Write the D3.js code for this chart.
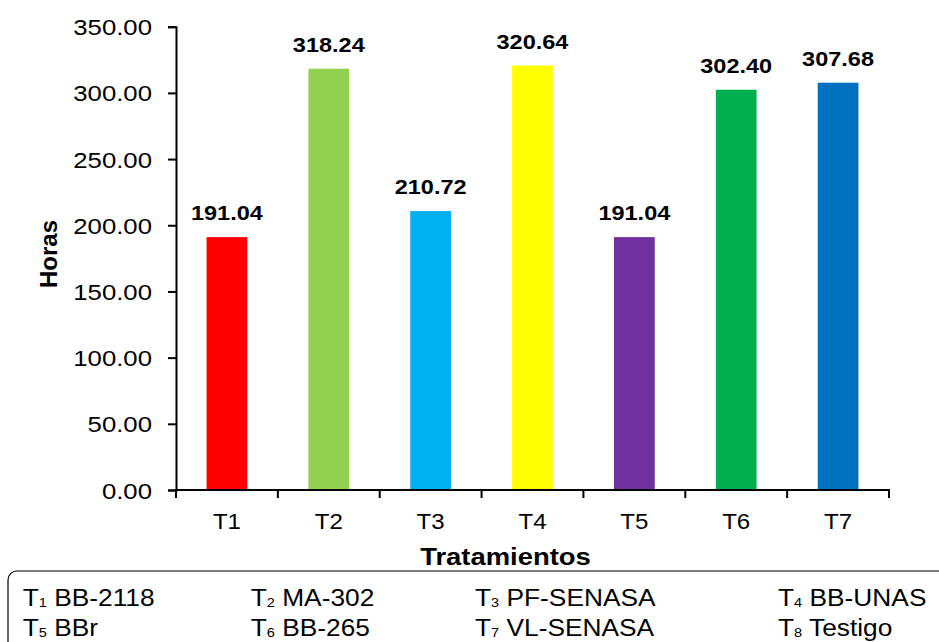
<!DOCTYPE html>
<html>
<head>
<meta charset="utf-8">
<script src="https://cdn.jsdelivr.net/npm/d3@7/dist/d3.min.js"></script>
<style>
  html, body { margin: 0; padding: 0; background: #fff; }
  svg { display: block; font-family: Arial, "Liberation Sans", sans-serif; }
</style>
</head>
<body>
<svg id="chart" width="939" height="642"></svg>
<script>
// Treatments and their mean duration (hours)
const categories = ["T1", "T2", "T3", "T4", "T5", "T6", "T7"];
const values = [191.04, 318.24, 210.72, 320.64, 191.04, 302.40, 307.68];
const barColors = ["#FF0000", "#92D050", "#00B0F0", "#FFFF00", "#7030A0", "#00B050", "#0070C0"];
const yTicks = [0, 50, 100, 150, 200, 250, 300, 350];

// Key of treatment codes
const legendCodes = ["1", "2", "3", "4", "5", "6", "7", "8"];
const legendNames = ["BB-2118", "MA-302", "PF-SENASA", "BB-UNAS", "BBr", "BB-265", "VL-SENASA", "Testigo"];

const SX = 1.12; // horizontal stretch applied to text glyphs

const svg = d3.select("#chart");

const x = d3.scaleBand()
  .domain(categories)
  .range([176, 889])
  .paddingInner(0.6)
  .paddingOuter(0.3);

const y = d3.scaleLinear()
  .domain([0, 350])
  .range([490, 26.7]);

// Bars
svg.append("g")
  .selectAll("rect")
  .data(values)
  .join("rect")
  .attr("x", (d, i) => x(categories[i]))
  .attr("y", d => y(d))
  .attr("width", x.bandwidth())
  .attr("height", d => y(0) - y(d))
  .attr("fill", (d, i) => barColors[i]);

// Value labels
svg.append("g")
  .selectAll("text")
  .data(values)
  .join("text")
  .attr("transform", (d, i) =>
    `translate(${x(categories[i]) + x.bandwidth() / 2},${y(d) - 17}) scale(${SX},1)`)
  .attr("text-anchor", "middle")
  .attr("font-weight", "bold")
  .attr("font-size", 21)
  .attr("fill", "#000")
  .text(d => d.toFixed(2));

// Y axis
const yAxis = svg.append("g")
  .attr("transform", "translate(176,0)")
  .call(d3.axisLeft(y).tickValues(yTicks).tickFormat(d3.format(".2f")).tickSize(8).tickPadding(16));
yAxis.select(".domain").attr("stroke", "#000").attr("stroke-width", 2);
yAxis.selectAll(".tick line").attr("stroke", "#000").attr("stroke-width", 2);
yAxis.selectAll(".tick text")
  .attr("x", null)
  .attr("dy", null)
  .attr("transform", `translate(-24,8) scale(${SX},1)`)
  .attr("font-size", 23)
  .attr("font-family", "Arial, 'Liberation Sans', sans-serif")
  .attr("fill", "#000");

// X axis: labels at band centres, tick marks at band boundaries
const xAxis = svg.append("g")
  .attr("transform", `translate(0,${y(0)})`)
  .call(d3.axisBottom(x).tickSize(0).tickPadding(0));
xAxis.select(".domain").remove();
xAxis.selectAll(".tick text")
  .attr("y", null)
  .attr("dy", null)
  .attr("transform", `translate(0,39) scale(${SX},1)`)
  .attr("font-size", 21.5)
  .attr("font-family", "Arial, 'Liberation Sans', sans-serif")
  .attr("fill", "#000");

const [x0, x1] = x.range();
xAxis.append("line")
  .attr("x1", x0 - 1).attr("x2", x1 + 1)
  .attr("y1", 0).attr("y2", 0)
  .attr("stroke", "#000").attr("stroke-width", 2);
xAxis.selectAll(".bound")
  .data(d3.range(categories.length + 1))
  .join("line")
  .attr("class", "bound")
  .attr("x1", i => x0 + i * x.step())
  .attr("x2", i => x0 + i * x.step())
  .attr("y1", 0).attr("y2", 8)
  .attr("stroke", "#000").attr("stroke-width", 2);

// Axis titles
svg.append("text")
  .attr("transform", "translate(56.5,254) rotate(-90)")
  .attr("text-anchor", "middle")
  .attr("font-weight", "bold")
  .attr("font-size", 24)
  .text("Horas");

svg.append("text")
  .attr("transform", `translate(505.5,565) scale(${SX},1)`)
  .attr("text-anchor", "middle")
  .attr("font-weight", "bold")
  .attr("font-size", 24.5)
  .text("Tratamientos");

// Key box
svg.append("rect")
  .attr("x", 8).attr("y", 571)
  .attr("width", 960).attr("height", 120)
  .attr("rx", 9).attr("ry", 9)
  .attr("fill", "none")
  .attr("stroke", "#000")
  .attr("stroke-width", 1.2);

const colX = [22.7, 250.7, 475, 778];
const rowY = [606, 636];
const keys = svg.append("g")
  .selectAll("text")
  .data(legendNames)
  .join("text")
  .attr("transform", (d, i) => `translate(${colX[i % 4]},${rowY[Math.floor(i / 4)]}) scale(${SX},1)`)
  .attr("font-size", 23.5)
  .attr("fill", "#000");
keys.append("tspan").text("T");
keys.append("tspan")
  .attr("font-size", 13)
  .attr("dy", 1)
  .text((d, i) => legendCodes[i]);
keys.append("tspan")
  .attr("dy", -1)
  .text(d => " " + d);
</script>
</body>
</html>
